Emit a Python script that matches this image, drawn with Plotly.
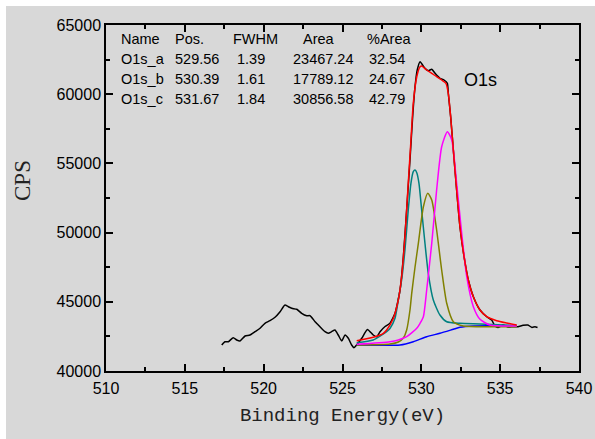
import plotly.graph_objects as go

# ---- measured spectrum (O1s region + wider scan) ----
exp_be = [517.34, 517.55, 517.76, 518.07, 518.29, 518.50, 518.82, 519.13, 519.45, 519.77,
          520.08, 520.40, 520.72, 521.04, 521.35, 521.56, 521.78, 522.10, 522.41, 522.73,
          522.94, 523.26, 523.57, 523.89, 524.10, 524.31, 524.52, 524.73, 524.95, 525.16,
          525.37, 525.58, 525.73, 525.90, 526.22, 526.58, 526.95, 527.17, 527.38, 527.70,
          528.01, 528.33, 528.65, 528.86, 529.07, 529.28, 529.45, 529.60, 529.74, 529.92,
          530.04, 530.23, 530.44, 530.66, 530.87, 531.18, 531.44, 531.65, 531.71, 531.86,
          532.03, 532.24, 532.45, 532.71, 532.98, 533.30, 533.72, 534.15, 534.46, 534.67,
          534.86, 535.18, 535.50, 535.81, 536.13, 536.45, 536.76, 537.02, 537.21, 537.37]
exp_cps = [41880, 42117, 42117, 42406, 42240, 42168, 42529, 42601, 42840, 43085,
           43447, 43634, 43880, 44285, 44769, 44646, 44530, 44458, 44169, 43996,
           43996, 43562, 43201, 42840, 42724, 42840, 42962, 42601, 42168, 42601,
           42363, 41879, 41684, 41879, 42363, 42999, 42601, 42478, 42840, 43215,
           43447, 44169, 45853, 48259, 51633, 55246, 58374, 60542, 61748, 62348,
           62182, 61871, 61698, 61799, 61510, 61149, 61026, 60788, 60065, 58374,
           55968, 53078, 50426, 48259, 46575, 45368, 44407, 43923, 43685, 43251,
           43143, 43324, 43179, 43201, 43201, 43302, 43324, 43143, 43201, 43143]

# ---- fitted envelope ----
env_be = [525.90, 526.95, 527.59, 527.80, 528.22, 528.54, 528.75, 528.96, 529.17, 529.33,
          529.49, 529.71, 529.92, 530.02, 530.34, 530.66, 530.97, 531.29, 531.56, 531.71,
          531.86, 532.03, 532.24, 532.45, 532.71, 532.98, 533.30, 533.72, 534.15, 534.78,
          535.41, 536.05]
env_cps = [42189, 42435, 42724, 42962, 43793, 45130, 46814, 49704, 53562, 56452,
           59342, 61264, 61987, 62037, 61748, 61510, 61264, 61026, 60788, 60065,
           58374, 55968, 53078, 50426, 48259, 46575, 45368, 44407, 43923, 43634,
           43468, 43324]

# ---- component O1s_a ----
a_be = [525.90, 526.95, 527.80, 528.01, 528.33, 528.54, 528.75, 528.96, 529.17, 529.34,
        529.49, 529.60, 529.71, 529.85, 530.02, 530.23, 530.44, 530.76, 531.18, 531.61,
        532.45, 533.72, 536.05]
a_cps = [42045, 42240, 42840, 43071, 43808, 45130, 46575, 48743, 51633, 53562,
         54400, 54523, 54328, 53562, 51633, 49227, 47059, 45130, 44046, 43562,
         43447, 43396, 43288]

# ---- component O1s_b ----
b_be = [525.90, 528.01, 528.54, 528.86, 529.07, 529.28, 529.39, 529.60, 529.81, 530.13,
        530.41, 530.66, 530.97, 531.29, 531.61, 532.03, 532.66, 534.35, 536.05]
b_cps = [41879, 41951, 42095, 42384, 42962, 44407, 45614, 47514, 49227, 51871,
         52840, 52355, 50188, 47298, 44892, 43562, 43251, 43201, 43201]

# ---- component O1s_c ----
c_be = [525.90, 528.01, 528.54, 529.07, 529.71, 529.92, 530.13, 530.34, 530.66, 530.97,
        531.29, 531.65, 531.93, 532.24, 532.56, 532.88, 533.30, 533.72, 534.35, 536.05]
c_cps = [41929, 42117, 42240, 42478, 43085, 43447, 43923, 45853, 49227, 53078,
         56207, 57290, 56691, 53562, 49949, 46814, 44646, 43736, 43324, 43251]

# ---- background ----
bg_be = [525.90, 528.65, 529.49, 530.34, 531.18, 532.03, 532.45, 533.30, 536.05]
bg_cps = [41879, 41879, 42117, 42478, 42724, 43013, 43157, 43251, 43251]

# ---- fit results table ----
tbl_header = ["Name", "Pos.", "FWHM", "Area", "%Area"]
peak_names = ["O1s_a", "O1s_b", "O1s_c"]
peak_pos = ["529.56", "530.39", "531.67"]
peak_fwhm = ["1.39", "1.61", "1.84"]
peak_area = ["23467.24", "17789.12", "30856.58"]
peak_pct = ["32.54", "24.67", "42.79"]

BG = "#d8d8d8"
TXT = "Liberation Sans, Arial, sans-serif"

fig = go.Figure()

def add_line(x, y, color, smooth=0.6):
    fig.add_trace(go.Scatter(x=x, y=y, mode="lines",
                             line=dict(color=color, width=1.5, shape="spline", smoothing=smooth),
                             showlegend=False, hoverinfo="skip"))

add_line(exp_be, exp_cps, "black", 0.5)
add_line(bg_be, bg_cps, "#0000ff")
add_line(a_be, a_cps, "#008080")
add_line(b_be, b_cps, "#808000")
add_line(c_be, c_cps, "#ff00ff")
add_line(env_be, env_cps, "#ff0000")

# table text (placed in data coordinates)
row_y = [63990, 62520, 61080, 59630]
head_x = [510.80, 514.25, 517.94, 522.38, 526.40]
val_x = [510.80, 514.25, 518.16, 521.71, 526.57]
ann = []
for txt, xx in zip(tbl_header, head_x):
    ann.append(dict(x=xx, y=row_y[0], text=txt))
for i in range(3):
    cols = [peak_names[i], peak_pos[i], peak_fwhm[i], peak_area[i], peak_pct[i]]
    for txt, xx in zip(cols, val_x):
        ann.append(dict(x=xx, y=row_y[i + 1], text=txt))
for a in ann:
    fig.add_annotation(x=a["x"], y=a["y"], text=a["text"], xref="x", yref="y",
                       xanchor="left", yanchor="middle", showarrow=False,
                       font=dict(family=TXT, size=14.5, color="black"))

fig.add_annotation(x=532.60, y=61030, text="O1s", xref="x", yref="y",
                   xanchor="left", yanchor="middle", showarrow=False,
                   font=dict(family=TXT, size=18, color="black"))

# y axis title
fig.add_annotation(x=-0.177, y=0.55, xref="paper", yref="paper", text="CPS",
                   textangle=-90, showarrow=False, xanchor="center", yanchor="middle",
                   font=dict(family="Liberation Serif, serif", size=23, color="#222"))

# grey panel behind everything (white strip at the top and left edges)
fig.add_shape(type="rect", xref="paper", yref="paper",
              x0=-0.2114, x1=1.05, y0=-0.21, y1=1.0549,
              fillcolor=BG, line=dict(width=0), layer="below")

axis_common = dict(showline=True, linecolor="black", linewidth=1.5, mirror="ticks",
                   ticks="inside", ticklen=7, tickwidth=1.5, tickcolor="black",
                   showgrid=False, zeroline=False, automargin=False,
                   tickfont=dict(family=TXT, size=16, color="black"))

fig.update_xaxes(range=[510, 540], dtick=5, tick0=510, ticklabelstandoff=2,
                 minor=dict(dtick=2.5, ticks="inside", ticklen=4, tickwidth=1.5,
                            tickcolor="black", showgrid=False),
                 title=dict(text="Binding Energy(eV)", standoff=12,
                            font=dict(family="Liberation Mono, monospace", size=19, color="#222")),
                 **axis_common)
fig.update_yaxes(range=[40000, 65000], dtick=5000, tick0=40000, tickformat="d",
                 minor=dict(dtick=2500, ticks="inside", ticklen=4, tickwidth=1.5,
                            tickcolor="black", showgrid=False),
                 **axis_common)

fig.update_layout(width=595, height=439,
                  margin=dict(l=106, r=16, t=25, b=68),
                  paper_bgcolor="white", plot_bgcolor="rgba(0,0,0,0)",
                  showlegend=False)

fig.write_html("out.html")
